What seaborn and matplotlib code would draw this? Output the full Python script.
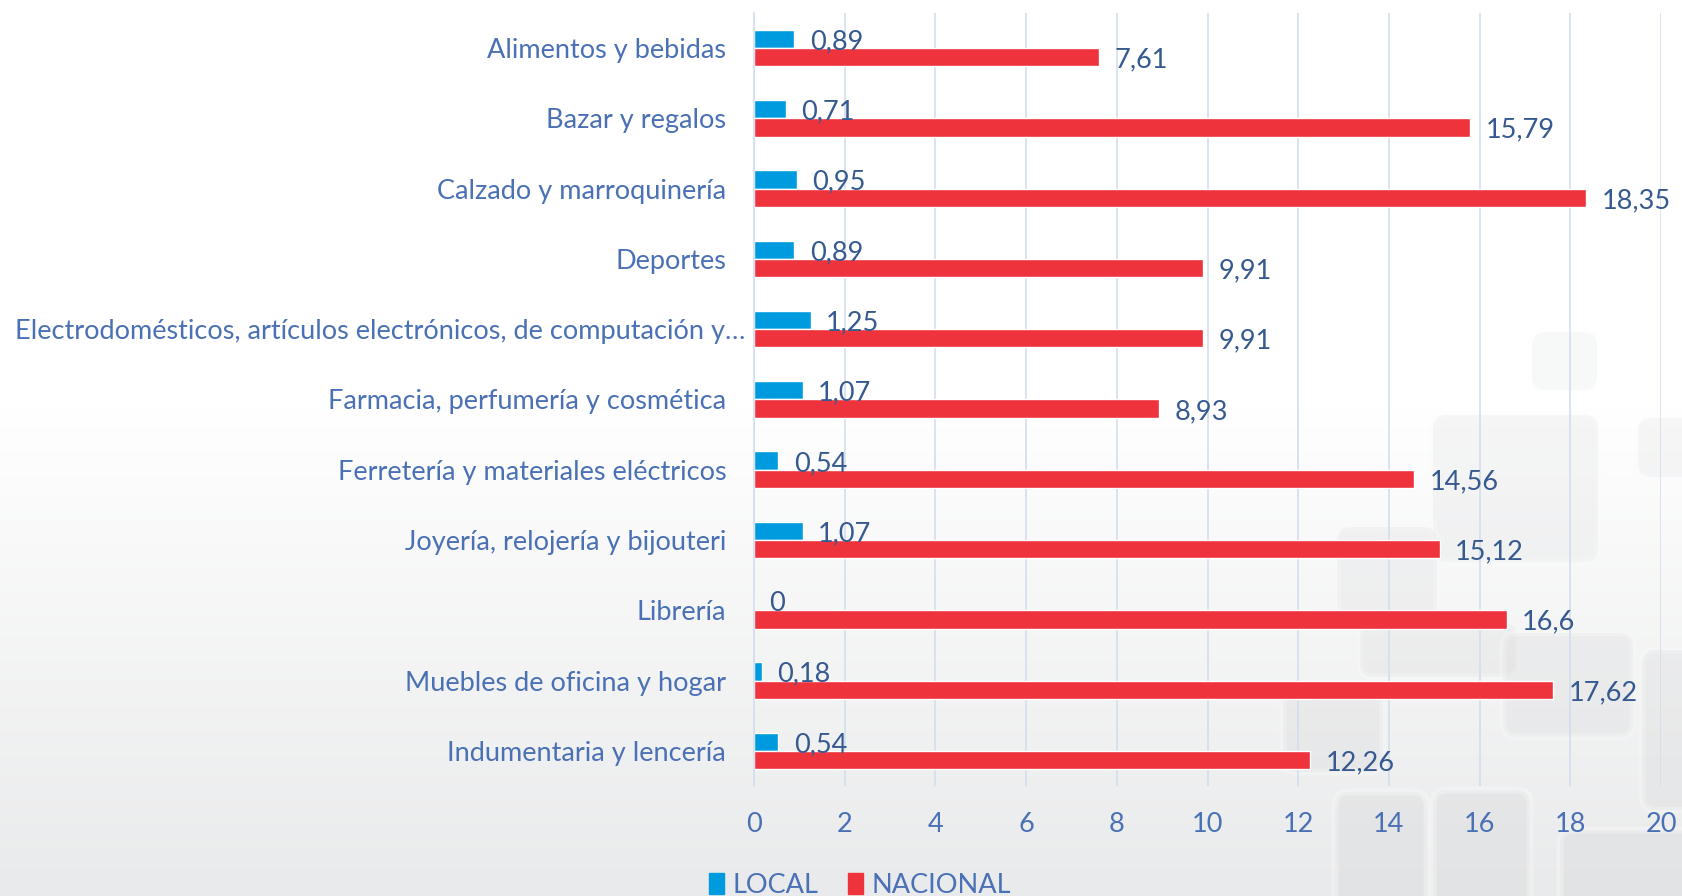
"""
Comparativa LOCAL vs NACIONAL por rubro (barras horizontales)
"""

import numpy as np
import pandas as pd
import matplotlib.pyplot as plt
from matplotlib.patches import FancyBboxPatch, Patch
from matplotlib.transforms import ScaledTranslation
import seaborn as sns

# Datos
categorias = [
    "Alimentos y bebidas",
    "Bazar y regalos",
    "Calzado y marroquinería",
    "Deportes",
    "Electrodomésticos, artículos electrónicos, de computación y…",
    "Farmacia, perfumería y cosmética",
    "Ferretería y materiales eléctricos",
    "Joyería, relojería y bijouteri",
    "Librería",
    "Muebles de oficina y hogar",
    "Indumentaria y lencería",
]
local = [0.89, 0.71, 0.95, 0.89, 1.25, 1.07, 0.54, 1.07, 0, 0.18, 0.54]
nacional = [7.61, 15.79, 18.35, 9.91, 9.91, 8.93, 14.56, 15.12, 16.6, 17.62, 12.26]
series = ["LOCAL", "NACIONAL"]
x_ticks = [0, 2, 4, 6, 8, 10, 12, 14, 16, 18, 20]

BLUE = "#009BDE"
RED = "#EE333D"
LABEL_COLOR = "#4A70B5"
VALUE_COLOR = "#36598F"
FS = 19.5

df = pd.DataFrame({
    "categoria": categorias * 2,
    "serie": [series[0]] * len(categorias) + [series[1]] * len(categorias),
    "valor": local + nacional,
})

sns.set_theme(style="white")
plt.rcParams["font.family"] = ["Lato", "DejaVu Sans"]

W, H = 1683, 896
fig = plt.figure(figsize=(W / 100, H / 100), dpi=100)

# Fondo: degradado blanco -> gris claro con recuadros decorativos (en px)
bg = fig.add_axes([0, 0, 1, 1], zorder=-10)
rows = np.linspace(0, 1, 256)
grad = np.clip((rows - 0.45) / 0.55, 0, 1)[:, None]
bg.imshow(grad, aspect="auto", cmap=sns.blend_palette(["#ffffff", "#e9eaeb"], as_cmap=True),
          extent=(0, W, H, 0), vmin=0, vmax=1)
cajas = [(1532, 332, 1597, 390), (1433, 415, 1598, 562), (1638, 418, 1720, 477),
         (1337, 527, 1437, 617), (1360, 623, 1517, 677), (1283, 683, 1383, 772),
         (1503, 633, 1633, 737), (1335, 792, 1427, 920), (1433, 790, 1530, 920),
         (1642, 650, 1720, 810), (1560, 830, 1720, 920)]
for (x0, y0, x1, y1) in cajas:
    yc = (y0 + y1) / 2 / H
    bg.add_patch(FancyBboxPatch((x0, y0), x1 - x0, y1 - y0,
                                boxstyle="round,pad=0,rounding_size=14",
                                facecolor="#d6d7d9", edgecolor="#fbfbfb", linewidth=5,
                                alpha=0.05 + 0.3 * yc))
bg.set_xlim(0, W)
bg.set_ylim(H, 0)
bg.axis("off")

ax = fig.add_axes([0.448, 0.1228, 0.539, 0.8627])
ax.patch.set_alpha(0)

sns.barplot(data=df, y="categoria", x="valor", hue="serie", hue_order=series,
            palette=[BLUE, RED], orient="h", width=0.52, saturation=1,
            legend=False, ax=ax)

# Etiquetas de valor
for container in ax.containers:
    for bar in container:
        v = bar.get_width()
        ax.annotate(f"{v:g}".replace(".", ","),
                    xy=(v, bar.get_y() + bar.get_height() / 2),
                    xytext=(11, -2), textcoords="offset points",
                    ha="left", va="center", fontsize=FS, color=VALUE_COLOR)

ax.set_xlim(0, 20)
ax.set_xticks(x_ticks)
ax.set_xticklabels([str(t) for t in x_ticks])
ax.grid(axis="x", color="#d3deec", linewidth=1.2)
ax.set_axisbelow(True)
ax.set_xlabel("")
ax.set_ylabel("")
for side in ["top", "right", "bottom"]:
    ax.spines[side].set_visible(False)
ax.spines["left"].set_color("#d3deec")
ax.spines["left"].set_linewidth(1.2)
ax.tick_params(axis="x", length=0, pad=19, labelsize=FS, labelcolor=LABEL_COLOR)
ax.tick_params(axis="y", length=0, pad=20, labelsize=FS, labelcolor=LABEL_COLOR)

# la etiqueta larga queda más pegada al eje, como en el original
for lbl in ax.get_yticklabels():
    if lbl.get_text().endswith("…"):
        lbl.set_transform(lbl.get_transform() + ScaledTranslation(0.19, 0, fig.dpi_scale_trans))

handles = [Patch(color=BLUE, label=series[0]), Patch(color=RED, label=series[1])]
fig.legend(handles=handles, loc="center", bbox_to_anchor=(0.511, 0.012), ncol=2,
           frameon=False, fontsize=FS, labelcolor=LABEL_COLOR,
           handlelength=0.55, handleheight=0.8, handletextpad=0.3, columnspacing=1.1)

plt.savefig("out.png", dpi=100)
plt.close()
